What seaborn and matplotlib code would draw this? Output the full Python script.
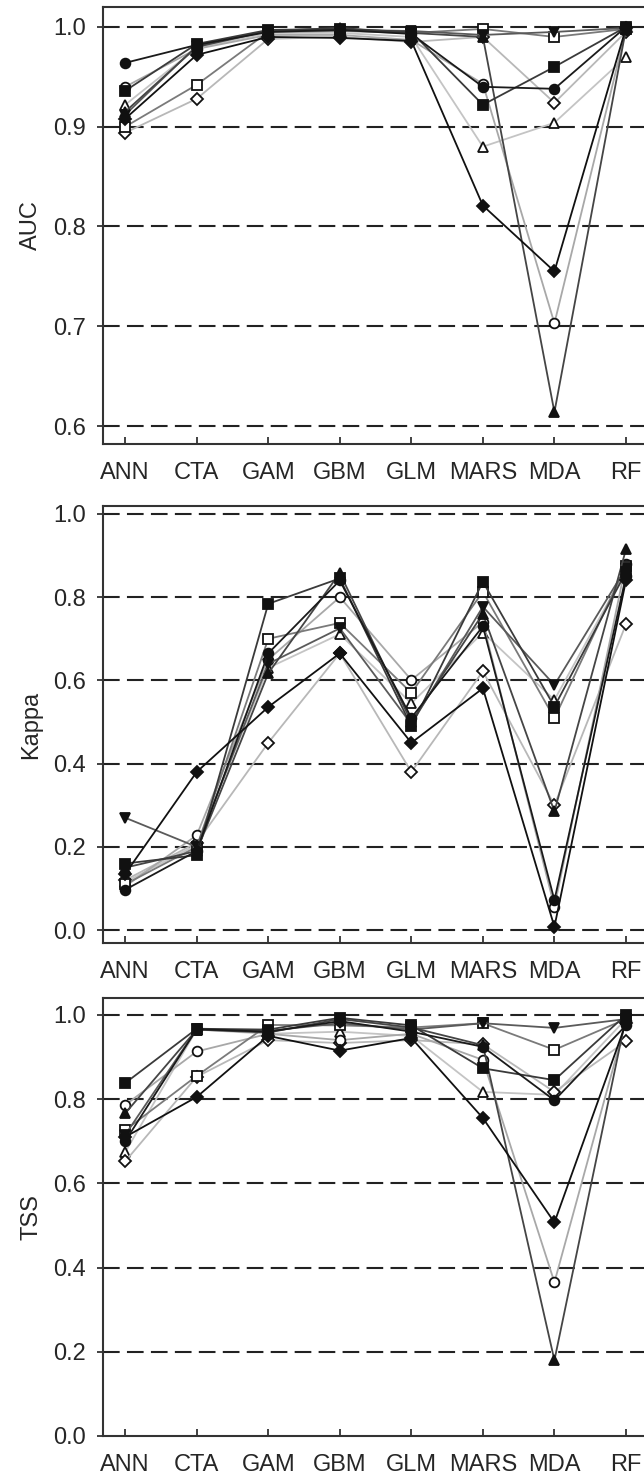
import matplotlib
matplotlib.use('Agg')
import matplotlib.pyplot as plt
import numpy as np
import pandas as pd
import seaborn as sns

models = ['ANN', 'CTA', 'GAM', 'GBM', 'GLM', 'MARS', 'MDA', 'RF']
series = ['fc', 'fs', 'tu', 'td', 'fd', 'oc', 'os', 'ot', 'od']

# AUC per series (order as in `series`)
auc_fc = [0.964, 0.982, 0.995, 0.997, 0.993, 0.940, 0.938, 1.000]
auc_fs = [0.936, 0.983, 0.997, 0.998, 0.995, 0.922, 0.960, 1.000]
auc_tu = [0.915, 0.980, 0.996, 0.999, 0.994, 0.990, 0.614, 0.998]
auc_td = [0.912, 0.981, 0.996, 0.997, 0.996, 0.992, 0.995, 0.999]
auc_fd = [0.908, 0.972, 0.990, 0.989, 0.986, 0.821, 0.755, 0.999]
auc_oc = [0.940, 0.978, 0.992, 0.992, 0.987, 0.943, 0.703, 0.997]
auc_os = [0.900, 0.942, 0.995, 0.996, 0.994, 0.998, 0.990, 0.998]
auc_ot = [0.922, 0.979, 0.994, 0.994, 0.990, 0.880, 0.904, 0.970]
auc_od = [0.894, 0.928, 0.988, 0.990, 0.985, 0.990, 0.924, 0.995]

# Kappa
kap_fc = [0.097, 0.190, 0.665, 0.840, 0.510, 0.730, 0.072, 0.850]
kap_fs = [0.160, 0.180, 0.784, 0.845, 0.490, 0.837, 0.537, 0.860]
kap_tu = [0.150, 0.190, 0.617, 0.858, 0.500, 0.760, 0.285, 0.915]
kap_td = [0.270, 0.200, 0.640, 0.725, 0.495, 0.777, 0.589, 0.870]
kap_fd = [0.135, 0.380, 0.536, 0.665, 0.450, 0.581, 0.008, 0.840]
kap_oc = [0.105, 0.228, 0.650, 0.800, 0.601, 0.740, 0.056, 0.880]
kap_os = [0.110, 0.200, 0.700, 0.738, 0.570, 0.813, 0.509, 0.875]
kap_ot = [0.115, 0.205, 0.630, 0.711, 0.545, 0.715, 0.553, 0.865]
kap_od = [0.120, 0.210, 0.450, 0.665, 0.380, 0.622, 0.300, 0.735]

# TSS
tss_fc = [0.700, 0.966, 0.960, 0.985, 0.960, 0.924, 0.797, 0.975]
tss_fs = [0.838, 0.967, 0.965, 0.993, 0.975, 0.873, 0.845, 1.000]
tss_tu = [0.766, 0.965, 0.958, 0.990, 0.970, 0.928, 0.180, 0.995]
tss_td = [0.715, 0.966, 0.962, 0.980, 0.965, 0.980, 0.969, 0.990]
tss_fd = [0.710, 0.805, 0.950, 0.915, 0.945, 0.755, 0.507, 0.980]
tss_oc = [0.786, 0.913, 0.955, 0.940, 0.955, 0.893, 0.365, 0.985]
tss_os = [0.726, 0.855, 0.976, 0.975, 0.970, 0.980, 0.917, 0.990]
tss_ot = [0.674, 0.965, 0.955, 0.960, 0.950, 0.817, 0.810, 0.990]
tss_od = [0.652, 0.853, 0.940, 0.933, 0.940, 0.930, 0.817, 0.937]

auc = [auc_fc, auc_fs, auc_tu, auc_td, auc_fd, auc_oc, auc_os, auc_ot, auc_od]
kap = [kap_fc, kap_fs, kap_tu, kap_td, kap_fd, kap_oc, kap_os, kap_ot, kap_od]
tss = [tss_fc, tss_fs, tss_tu, tss_td, tss_fd, tss_oc, tss_os, tss_ot, tss_od]

# styles: (marker, filled, line colour)
styles = {
    'fc': ('o', True, '#1a1a1a'),
    'fs': ('s', True, '#3a3a3a'),
    'tu': ('^', True, '#454545'),
    'td': ('v', True, '#5a5a5a'),
    'fd': ('D', True, '#111111'),
    'oc': ('o', False, '#a8a8a8'),
    'os': ('s', False, '#7a7a7a'),
    'ot': ('^', False, '#c4c4c4'),
    'od': ('D', False, '#b8b8b8'),
}
draw_order = ['ot', 'od', 'oc', 'os', 'td', 'tu', 'fs', 'fc', 'fd']


def long_frame(values):
    rows = []
    for name, vals in zip(series, values):
        for i, (m, v) in enumerate(zip(models, vals)):
            rows.append({'series': name, 'pos': i, 'model': m, 'value': v})
    return pd.DataFrame(rows)


sns.set_style('ticks')
plt.rcParams['font.family'] = ['Liberation Sans', 'DejaVu Sans']

fig = plt.figure(figsize=(6.44, 14.77), dpi=100)
W, H = 644.0, 1477.0
left_px, right_px = 103, 651

panels = [
    ('AUC', auc, 7, 444, (0.582, 1.020), [0.6, 0.7, 0.8, 0.9, 1.0]),
    ('Kappa', kap, 506, 943, (-0.031, 1.019), [0.0, 0.2, 0.4, 0.6, 0.8, 1.0]),
    ('TSS', tss, 998, 1436, (0.0, 1.040), [0.0, 0.2, 0.4, 0.6, 0.8, 1.0]),
]

for label, values, top_px, bot_px, ylim, yticks in panels:
    ax = fig.add_axes([left_px / W, 1 - bot_px / H,
                       (right_px - left_px) / W, (bot_px - top_px) / H])
    df = long_frame(values)
    for name in draw_order:
        marker, filled, col = styles[name]
        sub = df[df['series'] == name]
        sns.lineplot(data=sub, x='pos', y='value', ax=ax, color=col,
                     lw=1.3, marker=marker, markersize=7 if marker != 'D' else 6,
                     markerfacecolor='#111111' if filled else 'white',
                     markeredgecolor='#111111', markeredgewidth=1.3,
                     sort=False, zorder=3)
    ax.set_xlim(-0.31, 7.35)
    ax.set_ylim(*ylim)
    ax.set_yticks(yticks)
    ax.set_yticklabels([f'{t:.1f}' for t in yticks])
    ax.set_xticks(range(len(models)))
    ax.set_xticklabels(models)
    ax.set_xlabel('')
    ax.set_ylabel(label, fontsize=17, labelpad=8)
    for t in yticks:
        if t > ylim[0] + 0.005:
            ax.axhline(t, color='#222222', lw=1.5, ls=(0, (8, 3.5)), zorder=1)
    ax.tick_params(axis='x', direction='in', length=5, width=1.3,
                   labelsize=17, pad=13, color='#333333')
    ax.tick_params(axis='y', direction='out', length=4, width=1.3,
                   labelsize=17, pad=8, color='#333333')
    for sp in ax.spines.values():
        sp.set_linewidth(1.5)
        sp.set_color('#333333')
    if ax.get_legend():
        ax.get_legend().remove()

fig.savefig('out.png', dpi=100)
